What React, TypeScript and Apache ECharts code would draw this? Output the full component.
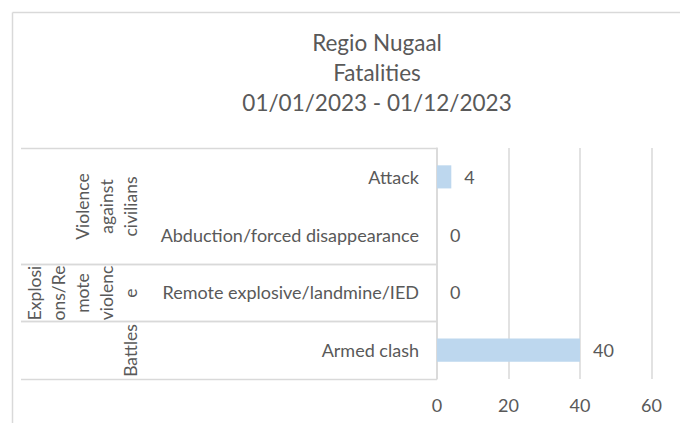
import React, { useEffect, useRef } from "react";
import * as echarts from "echarts";

const titleLines = ["Regio Nugaal", "Fatalities", "01/01/2023 - 01/12/2023"];
const categories = [
  "Attack",
  "Abduction/forced disappearance",
  "Remote explosive/landmine/IED",
  "Armed clash",
];
const fatalities = [4, 0, 0, 40];
const groupLabels = [
  "Violence\nagainst\ncivilians",
  "Explosi\nons/Re\nmote\nviolenc\ne",
  "Battles",
];
const groupStart = [0, 2, 3];
const groupEnd = [1, 2, 3];
const xTicks = { min: 0, max: 60, interval: 20 };

const FONT = "Lato";
const TEXT = "#595959";
const LINE = "#d9d9d9";

export default function App() {
  const ref = useRef<HTMLDivElement>(null);
  useEffect(() => {
    if (!ref.current) return;
    const chart = echarts.init(ref.current, undefined, { renderer: "svg" });
    const groupData = groupLabels.map((_, i) => [0, groupStart[i], groupEnd[i], i]);
    chart.setOption({
      animation: false,
      backgroundColor: "#ffffff",
      textStyle: { fontFamily: FONT },
      title: {
        text: titleLines.join("\n"),
        left: 372,
        top: 22,
        textAlign: "center",
        textStyle: {
          fontFamily: FONT,
          fontSize: 22.5,
          fontWeight: "normal",
          color: TEXT,
          lineHeight: 30,
        },
      },
      graphic: [
        {
          type: "line",
          shape: { x1: 12.5, y1: 12.5, x2: 680, y2: 12.5 },
          style: { stroke: LINE, lineWidth: 1.5 },
          silent: true,
        },
        {
          type: "line",
          shape: { x1: 12.5, y1: 12.5, x2: 12.5, y2: 423 },
          style: { stroke: LINE, lineWidth: 1.5 },
          silent: true,
        },
      ],
      grid: { left: 437, right: 28.5, top: 148, bottom: 44, containLabel: false },
      xAxis: {
        type: "value",
        min: xTicks.min,
        max: xTicks.max,
        interval: xTicks.interval,
        axisLine: { show: false },
        axisTick: { show: false },
        splitLine: { show: true, lineStyle: { color: LINE, width: 1.5 } },
        axisLabel: { color: TEXT, fontSize: 18, fontFamily: FONT, margin: 17 },
      },
      yAxis: {
        type: "category",
        data: categories,
        inverse: true,
        axisLine: { show: true, lineStyle: { color: LINE, width: 1.5 } },
        axisTick: { show: false },
        axisLabel: { color: TEXT, fontSize: 18, fontFamily: FONT, margin: 18 },
      },
      series: [
        {
          type: "bar",
          data: fatalities,
          barWidth: "40%",
          itemStyle: { color: "#BDD7EE" },
          label: {
            show: true,
            position: "right",
            distance: 13,
            color: TEXT,
            fontSize: 18,
            fontFamily: FONT,
          },
        },
        {
          type: "custom",
          data: groupData,
          encode: { x: 0, y: 1 },
          silent: true,
          clip: false,
          z: 5,
          renderItem: (params: any, api: any) => {
            const s = api.value(1);
            const e = api.value(2);
            const gi = api.value(3);
            const p1 = api.coord([0, s]);
            const p2 = api.coord([0, e]);
            const band = api.size([0, 1])[1];
            const y1 = Math.round(p1[1] - band / 2) + 0.5;
            const y2 = Math.round(p2[1] + band / 2) + 0.5;
            const x0 = p1[0];
            return {
              type: "group",
              children: [
                {
                  type: "line",
                  shape: { x1: x0 - 416, y1: y1, x2: x0, y2: y1 },
                  style: { stroke: LINE, lineWidth: 1.5 },
                },
                {
                  type: "line",
                  shape: { x1: x0 - 416, y1: y2, x2: x0, y2: y2 },
                  style: { stroke: LINE, lineWidth: 1.5 },
                },
                {
                  type: "text",
                  x: x0 - 295,
                  y: (y1 + y2) / 2,
                  rotation: Math.PI / 2,
                  style: {
                    text: groupLabels[gi],
                    align: "center",
                    verticalAlign: "bottom",
                    fontSize: 17.5,
                    lineHeight: 24,
                    fontFamily: FONT,
                    fill: TEXT,
                  },
                },
              ],
            };
          },
        },
      ],
    });
    return () => chart.dispose();
  }, []);
  return (
    <div
      ref={ref}
      style={{ position: "absolute", left: 0, top: 0, width: 680, height: 423 }}
    />
  );
}
